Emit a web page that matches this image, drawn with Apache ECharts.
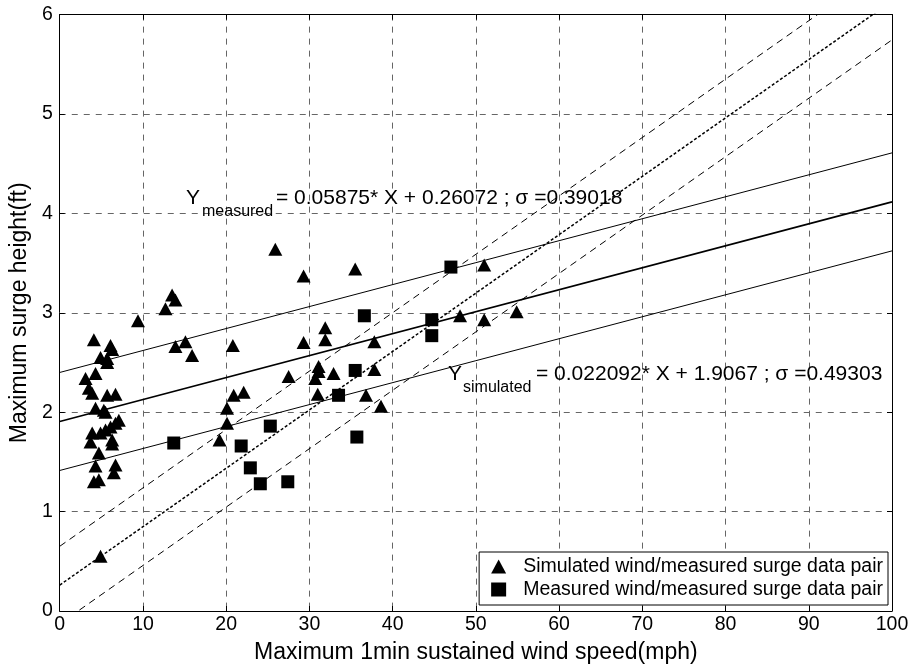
<!DOCTYPE html>
<html>
<head>
<meta charset="utf-8">
<script src="https://cdn.jsdelivr.net/npm/echarts@6/dist/echarts.min.js"></script>
<style>
  html, body { margin: 0; padding: 0; background: #fff; }
  #chart { width: 915px; height: 669px; }
</style>
</head>
<body>
<div id="chart"></div>
<script>
// Simulated wind / measured surge pairs (mph, ft)
const simWind = [4.1, 6.1, 6.3, 4.9, 5.7, 5.7, 4.3, 3.1, 3.5, 3.9, 5.7, 6.7, 4.3, 5.3, 5.5,
  7.1, 6.7, 6.1, 5.5, 3.9, 4.9, 3.7, 6.3, 6.3, 4.7, 4.3, 6.7, 6.5, 4.1, 4.7, 4.9,
  9.4, 12.7, 13.5, 13.9, 13.9, 15.1, 15.9, 20.8, 25.9, 29.3, 35.5, 29.3, 31.9, 31.9,
  37.8, 31.1, 31.1, 30.7, 32.9, 37.8, 27.5, 31.0, 36.8, 38.6, 20.9, 22.1, 20.1, 20.1,
  19.2, 51.0, 48.1, 51.0, 54.9];
const simSurge = [2.73, 2.67, 2.63, 2.55, 2.54, 2.50, 2.39, 2.34, 2.24, 2.19, 2.17, 2.18, 2.04, 2.02, 2.00,
  1.92, 1.89, 1.85, 1.82, 1.79, 1.79, 1.70, 1.72, 1.68, 1.59, 1.46, 1.47, 1.39, 1.30, 1.32, 0.55,
  2.92, 3.04, 3.18, 3.13, 2.66, 2.71, 2.57, 2.67, 3.64, 3.37, 3.44, 2.70, 2.85, 2.73,
  2.71, 2.46, 2.41, 2.34, 2.39, 2.43, 2.36, 2.18, 2.17, 2.06, 2.17, 2.20, 2.04, 1.89,
  1.72, 3.48, 2.97, 2.93, 3.01];

// Measured wind / measured surge pairs (mph, ft)
const measWind = [13.7, 36.6, 35.5, 33.5, 25.3, 21.8, 22.9, 24.1, 27.4, 35.7, 47.0, 44.7, 44.7];
const measSurge = [1.69, 2.97, 2.42, 2.17, 1.86, 1.66, 1.44, 1.28, 1.30, 1.75, 3.46, 2.93, 2.77];

// Fitted lines: slope, intercept, sigma
const fitMeasured = { slope: 0.05875, intercept: 0.26072, sigma: 0.39018 };
const fitSimulated = { slope: 0.022092, intercept: 1.9067, sigma: 0.49303 };

const xTicks = [0, 10, 20, 30, 40, 50, 60, 70, 80, 90, 100];
const yTicks = [0, 1, 2, 3, 4, 5, 6];

const FONT = 'Liberation Sans, Arial, sans-serif';

function pairs(xs, ys) { return xs.map((x, i) => [x, ys[i]]); }
function fitLine(fit, offset) {
  const x0 = xTicks[0], x1 = xTicks[xTicks.length - 1];
  return [[x0, fit.intercept + offset + fit.slope * x0], [x1, fit.intercept + offset + fit.slope * x1]];
}

const chart = echarts.init(document.getElementById('chart'), null, { renderer: 'canvas' });

const grid = { left: 57.5, right: 23, top: 14.6, bottom: 58 };
const gridStyle = { show: true, lineStyle: { color: '#666', type: [6, 6], width: 1 } };
const boxAxisLine = { show: true, onZero: false, lineStyle: { color: '#000', width: 1 } };
const inTicks = { show: true, inside: true, length: 5, lineStyle: { color: '#000' } };

function lineSeries(data, width, type) {
  return {
    type: 'line', data: data, symbol: 'none', silent: true, clip: true,
    lineStyle: { color: '#000', width: width, type: type }, z: 3
  };
}

// Equation label: main-size "Y", smaller subscript, then the rest of the formula
function equation(x, baseline, sub, subX, rest, restX) {
  const main = 21, small = 16;
  const t = (text, left, size, base) => ({
    type: 'text', x: left, y: base - 0.33 * size, z: 10,
    style: { text: text, fontFamily: FONT, fontSize: size, fill: '#000', verticalAlign: 'middle', align: 'left' }
  });
  return [t('Y', x, main, baseline), t(sub, subX, small, baseline + 12), t(rest, restX, main, baseline)];
}

chart.setOption({
  animation: false,
  backgroundColor: '#fff',
  grid: grid,
  xAxis: [{
    type: 'value', min: 0, max: 100, interval: 10,
    name: 'Maximum 1min sustained wind speed(mph)', nameLocation: 'middle', nameGap: 30,
    nameTextStyle: { fontFamily: FONT, fontSize: 23, color: '#000' },
    axisLine: boxAxisLine, axisTick: inTicks,
    axisLabel: { fontFamily: FONT, fontSize: 19.5, color: '#000', margin: 4 },
    splitLine: gridStyle
  }, {
    type: 'value', min: 0, max: 100, interval: 10, position: 'top',
    axisLine: boxAxisLine, axisTick: inTicks,
    axisLabel: { show: false }, splitLine: { show: false }
  }],
  yAxis: [{
    type: 'value', min: 0, max: 6, interval: 1,
    name: 'Maximum surge height(ft)', nameLocation: 'middle', nameGap: 26,
    nameTextStyle: { fontFamily: FONT, fontSize: 23, color: '#000' },
    axisLine: boxAxisLine, axisTick: inTicks,
    axisLabel: { fontFamily: FONT, fontSize: 19.5, color: '#000', margin: 7 },
    splitLine: gridStyle
  }, {
    type: 'value', min: 0, max: 6, interval: 1, position: 'right',
    axisLine: boxAxisLine, axisTick: inTicks,
    axisLabel: { show: false }, splitLine: { show: false }
  }],
  legend: {
    orient: 'vertical', right: 27, top: 552,
    backgroundColor: '#fff', borderColor: '#000', borderWidth: 1,
    padding: [3, 5, 4, 12], itemGap: 0, itemWidth: 15, itemHeight: 14,
    textStyle: { fontFamily: FONT, fontSize: 19.5, color: '#000', lineHeight: 23, padding: [0, 0, 0, 12] },
    data: [
      { name: 'Simulated wind/measured surge data pair', icon: 'triangle' },
      { name: 'Measured wind/measured surge data pair', icon: 'rect' }
    ]
  },
  series: [
    lineSeries(fitLine(fitSimulated, 0), 1.6, 'solid'),
    lineSeries(fitLine(fitSimulated, fitSimulated.sigma), 1, 'solid'),
    lineSeries(fitLine(fitSimulated, -fitSimulated.sigma), 1, 'solid'),
    lineSeries(fitLine(fitMeasured, 0), 1.5, [3, 2]),
    lineSeries(fitLine(fitMeasured, fitMeasured.sigma), 1, [7, 5]),
    lineSeries(fitLine(fitMeasured, -fitMeasured.sigma), 1, [7, 5]),
    {
      name: 'Simulated wind/measured surge data pair',
      type: 'scatter', symbol: 'triangle', symbolSize: [14, 13],
      itemStyle: { color: '#000', opacity: 1 }, data: pairs(simWind, simSurge), z: 5
    },
    {
      name: 'Measured wind/measured surge data pair',
      type: 'scatter', symbol: 'rect', symbolSize: 13,
      itemStyle: { color: '#000', opacity: 1 }, data: pairs(measWind, measSurge), z: 5
    }
  ],
  graphic: [].concat(
    equation(186, 205, 'measured', 202, '= 0.05875* X + 0.26072 ; \u03c3 =0.39018', 276),
    equation(448, 381, 'simulated', 463, '= 0.022092* X + 1.9067 ; \u03c3 =0.49303', 536)
  )
});
</script>
</body>
</html>
